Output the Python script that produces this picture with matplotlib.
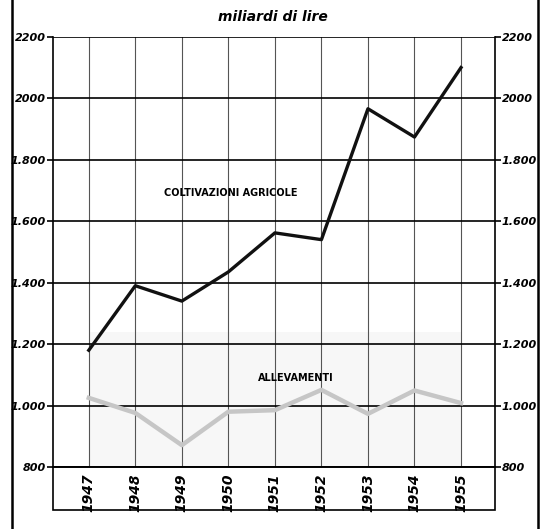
import matplotlib.pyplot as plt
from matplotlib.lines import Line2D
from matplotlib.patches import Rectangle

# 数据：1947-1955 年（十亿里拉）
anni = [1947, 1948, 1949, 1950, 1951, 1952, 1953, 1954, 1955]
coltivazioni = [1180, 1390, 1340, 1435, 1562, 1540, 1966, 1874, 2100]
allevamenti = [1025, 976, 871, 980, 985, 1051, 973, 1049, 1008]
y_ticks = [800, 1000, 1200, 1400, 1600, 1800, 2000, 2200]
y_labels = ['800', '1.000', '1.200', '1.400', '1.600', '1.800', '2000', '2200']

fig = plt.figure(figsize=(5.45, 5.29), dpi=100)
ax = fig.add_axes([0.0972, 0.1172, 0.811, 0.8131])

# 浅灰色底纹
ax.fill_between([1947, 1955], 800, 1240, color='#f7f7f7', zorder=0, lw=0)

# 两条曲线
ax.plot(anni, allevamenti, color='#c6c6c6', lw=3.2, zorder=3)
ax.plot(anni, coltivazioni, color='#111111', lw=2.4, zorder=4)

ax.set_xlim(1946.23, 1955.73)
ax.set_ylim(800, 2200)

# 横坐标：竖排年份
ax.set_xticks(anni)
ax.set_xticklabels([str(a) for a in anni], rotation=90, fontsize=10,
                   fontstyle='italic', fontweight='bold')
ax.tick_params(axis='x', length=0, pad=5)

# 纵坐标：左右两侧都有刻度
ax.set_yticks(y_ticks)
ax.set_yticklabels(y_labels, fontsize=8, fontstyle='italic', fontweight='bold')
ax.tick_params(axis='y', left=True, right=True, labelleft=True, labelright=True,
               length=4, width=1.2, pad=1, direction='out')

# 网格
ax.grid(axis='y', color='black', lw=1.2, zorder=1)
ax.grid(axis='x', color='#555555', lw=0.8, zorder=1)
ax.set_axisbelow(True)
for s in ax.spines.values():
    s.set_linewidth(1.2)
ax.spines['top'].set_visible(False)

# 曲线名称
ax.text(1950.05, 1692, 'COLTIVAZIONI AGRICOLE', ha='center', va='center',
        fontsize=7, fontweight='bold', zorder=5)
ax.text(1951.45, 1090, 'ALLEVAMENTI', ha='center', va='center',
        fontsize=7, fontweight='bold', zorder=5)

# 年份下方的方框
fig.add_artist(Rectangle((0.0972, 0.0359), 0.811, 0.0813,
                         transform=fig.transFigure, fill=False, lw=1.2))

# 左右边线
fig.add_artist(Line2D([12 / 545, 12 / 545], [0, 1], color='black', lw=1.8))
fig.add_artist(Line2D([538 / 545, 538 / 545], [0, 1], color='black', lw=1.8))

# 标题
fig.text(273 / 545, 1 - 17 / 529, 'miliardi di lire', ha='center', va='center',
         fontstyle='italic', fontweight='bold', fontsize=10)

plt.savefig('out.png', dpi=100)
